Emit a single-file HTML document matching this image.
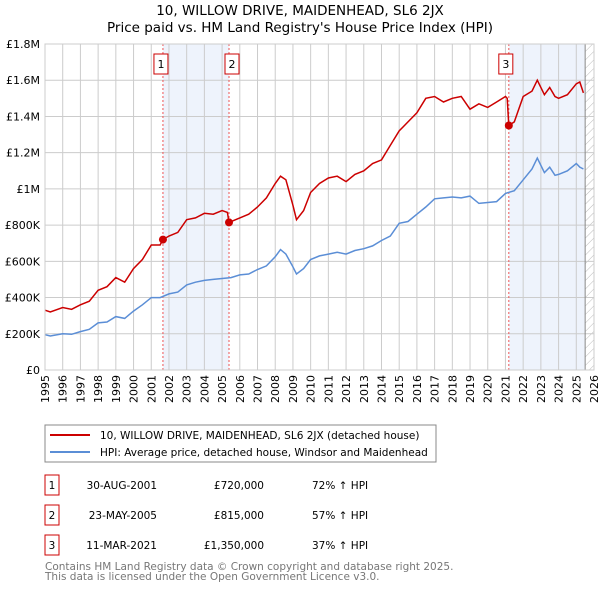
<!DOCTYPE html>
<html><head><meta charset="utf-8"><style>
body{margin:0;background:#fff;font-family:"DejaVu Sans","Liberation Sans",sans-serif;}
svg text{font-family:"DejaVu Sans","Liberation Sans",sans-serif;}
</style></head><body>
<svg id="c" width="600" height="590" xmlns="http://www.w3.org/2000/svg">
<defs><pattern id="h" width="6" height="6" patternUnits="userSpaceOnUse" patternTransform="rotate(45)"><line x1="0" y1="0" x2="0" y2="6" stroke="#bbb" stroke-width="1"/></pattern></defs>
<text x="300" y="15" text-anchor="middle" font-size="13.5">10, WILLOW DRIVE, MAIDENHEAD, SL6 2JX</text>
<text x="300" y="32" text-anchor="middle" font-size="13.5">Price paid vs. HM Land Registry's House Price Index (HPI)</text>
<g id="plot"></g>
<rect x="45" y="425" width="391" height="37" fill="#fff" stroke="#888"/>
<line x1="50" y1="435" x2="90" y2="435" stroke="#cc0000" stroke-width="2"/>
<text x="100" y="439" font-size="10.5">10, WILLOW DRIVE, MAIDENHEAD, SL6 2JX (detached house)</text>
<line x1="50" y1="452" x2="90" y2="452" stroke="#5b8ed6" stroke-width="2"/>
<text x="100" y="456" font-size="10.5">HPI: Average price, detached house, Windsor and Maidenhead</text>
<g id="tbl"></g>
<text x="45" y="570" font-size="10.5" fill="#777">Contains HM Land Registry data © Crown copyright and database right 2025.</text>
<text x="45" y="580" font-size="10.5" fill="#777">This data is licensed under the Open Government Licence v3.0.</text>
</svg>
<script>
const hpiYears=[1995,1995.3,1996,1996.5,1997,1997.5,1998,1998.5,1999,1999.5,2000,2000.5,2001,2001.5,2002,2002.5,2003,2003.5,2004,2004.5,2005,2005.5,2006,2006.5,2007,2007.5,2008,2008.3,2008.6,2009,2009.2,2009.6,2010,2010.5,2011,2011.5,2012,2012.5,2013,2013.5,2014,2014.5,2015,2015.5,2016,2016.5,2017,2017.5,2018,2018.5,2019,2019.5,2020,2020.5,2021,2021.5,2022,2022.5,2022.8,2023.2,2023.5,2023.8,2024,2024.5,2025,2025.2,2025.4];
const hpiValues=[195,188,200,197,212,225,260,265,295,285,325,360,400,400,420,430,470,485,495,500,505,510,525,530,555,575,625,665,640,570,530,560,610,630,640,650,640,660,670,685,715,740,810,820,860,900,945,950,955,950,960,920,925,930,975,990,1050,1110,1170,1090,1120,1075,1080,1100,1140,1120,1110];
const priceYears=[1995,1995.3,1996,1996.5,1997,1997.5,1998,1998.5,1999,1999.5,2000,2000.5,2001,2001.5,2001.66,2002,2002.5,2003,2003.5,2004,2004.5,2005,2005.3,2005.39,2006,2006.5,2007,2007.5,2008,2008.3,2008.6,2009,2009.2,2009.6,2010,2010.5,2011,2011.5,2012,2012.5,2013,2013.5,2014,2014.5,2015,2015.5,2016,2016.5,2017,2017.5,2018,2018.5,2019,2019.5,2020,2020.5,2021,2021.1,2021.19,2021.5,2022,2022.5,2022.8,2023.2,2023.5,2023.8,2024,2024.5,2025,2025.2,2025.4];
const priceValues=[330,320,345,335,360,380,440,460,510,485,560,610,690,690,720,740,760,830,840,865,860,880,870,815,840,860,900,950,1030,1070,1050,910,830,880,980,1030,1060,1070,1040,1080,1100,1140,1160,1240,1320,1370,1420,1500,1510,1480,1500,1510,1440,1470,1450,1480,1510,1500,1350,1370,1510,1540,1600,1520,1560,1510,1500,1520,1580,1590,1530];
const saleYears=[2001.66,2005.39,2021.19];
const saleValues=[720,815,1350];
const saleLabels=['1','2','3'];
const saleDates=['30-AUG-2001','23-MAY-2005','11-MAR-2021'];
const salePrices=['£720,000','£815,000','£1,350,000'];
const saleHpi=['72% ↑ HPI','57% ↑ HPI','37% ↑ HPI'];
const yTicks=[0,200,400,600,800,1000,1200,1400,1600,1800];
const yTickLabels=['£0','£200K','£400K','£600K','£800K','£1M','£1.2M','£1.4M','£1.6M','£1.8M'];
const x0=45,x1=594,y0=370,y1=44,yMin=1995,yMax=2026,vMax=1800;
const xs=t=>x0+(t-yMin)/(yMax-yMin)*(x1-x0);
const ys=v=>y0-v/vMax*(y0-y1);
const NS='http://www.w3.org/2000/svg';
const plot=document.getElementById('plot');
function mk(tag,at,parent){const e=document.createElementNS(NS,tag);for(const k in at)e.setAttribute(k,at[k]);(parent||plot).appendChild(e);return e;}
let r=mk('rect',{x:xs(saleYears[0]),y:y1,width:xs(saleYears[1])-xs(saleYears[0]),height:y0-y1,fill:'#eef3fc'});


r=mk('rect',{x:xs(saleYears[2]),y:y1,width:xs(2025.5)-xs(saleYears[2]),height:y0-y1,fill:'#eef3fc'});


r=mk('rect',{x:xs(2025.5),y:y1,width:x1-xs(2025.5),height:y0-y1,fill:'url(#h)'});


for(let yr=1995;yr<=2026;yr++){
  let l=mk('line',{x1:xs(yr),x2:xs(yr),y1:y1,y2:y0,stroke:'#ccc'});
  
  
  let t=mk('text',{x:0,y:0,'font-size':11,'text-anchor':'end',transform:`translate(${xs(yr)+4},${y0+5}) rotate(-90)`});
  t.textContent=yr;
  
  
}
yTicks.forEach((v,i)=>{
  let l=mk('line',{x1:x0,x2:x1,y1:ys(v),y2:ys(v),stroke:'#ccc'});
  
  
  let t=mk('text',{x:40,y:ys(v)+4,'font-size':11,'text-anchor':'end'});
  t.textContent=yTickLabels[i];
  
  
});
let bl=mk('line',{x1:xs(2025.5),x2:xs(2025.5),y1:y1,y2:y0,stroke:'#888'});


const off=[2,-3,3];
saleYears.forEach((s,i)=>{
  let l=mk('line',{x1:xs(s),x2:xs(s),y1:y1,y2:y0,stroke:'#e55','stroke-dasharray':'2,2'});
  
  
  let b=mk('rect',{x:xs(s)-7-off[i],y:54,width:14,height:20,fill:'#fff',stroke:'#cc0000'});
  
  
  let t=mk('text',{x:xs(s)-off[i],y:68,'font-size':11,'text-anchor':'middle'});
  t.textContent=saleLabels[i];
  
  
});
const path=(X,V)=>X.map((t,i)=>(i?'L':'M')+xs(t).toFixed(1)+','+ys(V[i]).toFixed(1)).join('');
let hp=mk('path',{d:path(hpiYears,hpiValues),fill:'none',stroke:'#5b8ed6','stroke-width':1.5});


let pp=mk('path',{d:path(priceYears,priceValues),fill:'none',stroke:'#cc0000','stroke-width':1.5});


saleYears.forEach((s,i)=>{
  let c=mk('circle',{cx:xs(s),cy:ys(saleValues[i]),r:4,fill:'#cc0000'});
  
  
});
let fr=mk('rect',{x:x0,y:y1,width:x1-x0,height:y0-y1,fill:'none',stroke:'#ccc'});


const tbl=document.getElementById('tbl');
saleLabels.forEach((lab,i)=>{
  const y=475+i*30;
  let b=mk('rect',{x:45,y:y,width:14,height:20,fill:'#fff',stroke:'#cc0000'},tbl);
  
  
  let t=mk('text',{x:52,y:y+14,'font-size':10.5,'text-anchor':'middle'},tbl);t.textContent=lab;
  
  
  t=mk('text',{x:157,y:y+14,'font-size':10.5,'text-anchor':'end'},tbl);t.textContent=saleDates[i];
  
  
  t=mk('text',{x:264,y:y+14,'font-size':10.5,'text-anchor':'end'},tbl);t.textContent=salePrices[i];
  
  
  t=mk('text',{x:312,y:y+14,'font-size':10.5},tbl);t.textContent=saleHpi[i];
  
  
});
</script>
</body></html>
